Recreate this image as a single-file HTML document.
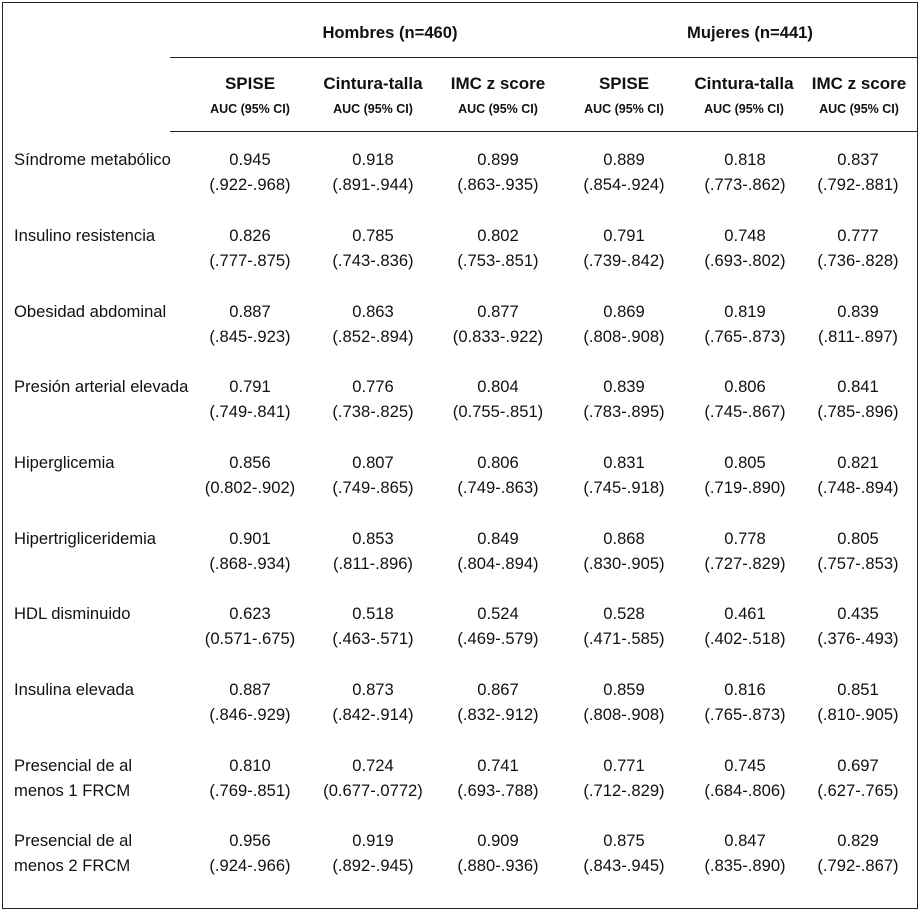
<!DOCTYPE html>
<html><head><meta charset="utf-8"><style>
body{margin:0;width:923px;height:914px;background:#fff;position:relative;font-family:"Liberation Sans",Arial,sans-serif;color:#111;overflow:hidden}
.b{position:absolute;left:2px;top:2px;width:914px;height:905px;border:1.5px solid #222}
.h{position:absolute;left:170px;width:748px;height:1px;background:#222}
.t{position:absolute;width:140px;text-align:center;font-size:16.6px;line-height:25px;white-space:nowrap}
.l{position:absolute;left:14px;font-size:16.6px;line-height:25px;white-space:nowrap}
.g{position:absolute;font-weight:bold;font-size:16.6px;width:200px;text-align:center;top:23px}
.c{position:absolute;width:140px;text-align:center;font-weight:bold;white-space:nowrap}
.c b{display:block;font-size:17px;line-height:18px}
.c i{display:block;font-style:normal;font-size:12.5px;line-height:14px;margin-top:9px}
</style></head><body>
<div class="b"></div>
<div class="h" style="top:57px"></div>
<div class="h" style="top:131px"></div>
<div class="g" style="left:290px">Hombres (n=460)</div>
<div class="g" style="left:650px">Mujeres (n=441)</div>
<div class="c" style="left:180px;top:75px"><b>SPISE</b><i>AUC (95% CI)</i></div>
<div class="c" style="left:303px;top:75px"><b>Cintura-talla</b><i>AUC (95% CI)</i></div>
<div class="c" style="left:428px;top:75px"><b>IMC z score</b><i>AUC (95% CI)</i></div>
<div class="c" style="left:554px;top:75px"><b>SPISE</b><i>AUC (95% CI)</i></div>
<div class="c" style="left:674px;top:75px"><b>Cintura-talla</b><i>AUC (95% CI)</i></div>
<div class="c" style="left:789px;top:75px"><b>IMC z score</b><i>AUC (95% CI)</i></div>

<div class="l" style="top:147px">Síndrome metabólico</div>
<div class="l" style="top:223px">Insulino resistencia</div>
<div class="l" style="top:299px">Obesidad abdominal</div>
<div class="l" style="top:374px">Presión arterial elevada</div>
<div class="l" style="top:450px">Hiperglicemia</div>
<div class="l" style="top:526px">Hipertrigliceridemia</div>
<div class="l" style="top:601px">HDL disminuido</div>
<div class="l" style="top:677px">Insulina elevada</div>
<div class="l" style="top:753px">Presencial de al<br>menos 1 FRCM</div>
<div class="l" style="top:828px">Presencial de al<br>menos 2 FRCM</div>

<div class="t" style="left:180px;top:147px">0.945<br>(.922-.968)</div>
<div class="t" style="left:303px;top:147px">0.918<br>(.891-.944)</div>
<div class="t" style="left:428px;top:147px">0.899<br>(.863-.935)</div>
<div class="t" style="left:554px;top:147px">0.889<br>(.854-.924)</div>
<div class="t" style="left:675px;top:147px">0.818<br>(.773-.862)</div>
<div class="t" style="left:788px;top:147px">0.837<br>(.792-.881)</div>

<div class="t" style="left:180px;top:223px">0.826<br>(.777-.875)</div>
<div class="t" style="left:303px;top:223px">0.785<br>(.743-.836)</div>
<div class="t" style="left:428px;top:223px">0.802<br>(.753-.851)</div>
<div class="t" style="left:554px;top:223px">0.791<br>(.739-.842)</div>
<div class="t" style="left:675px;top:223px">0.748<br>(.693-.802)</div>
<div class="t" style="left:788px;top:223px">0.777<br>(.736-.828)</div>

<div class="t" style="left:180px;top:299px">0.887<br>(.845-.923)</div>
<div class="t" style="left:303px;top:299px">0.863<br>(.852-.894)</div>
<div class="t" style="left:428px;top:299px">0.877<br>(0.833-.922)</div>
<div class="t" style="left:554px;top:299px">0.869<br>(.808-.908)</div>
<div class="t" style="left:675px;top:299px">0.819<br>(.765-.873)</div>
<div class="t" style="left:788px;top:299px">0.839<br>(.811-.897)</div>

<div class="t" style="left:180px;top:374px">0.791<br>(.749-.841)</div>
<div class="t" style="left:303px;top:374px">0.776<br>(.738-.825)</div>
<div class="t" style="left:428px;top:374px">0.804<br>(0.755-.851)</div>
<div class="t" style="left:554px;top:374px">0.839<br>(.783-.895)</div>
<div class="t" style="left:675px;top:374px">0.806<br>(.745-.867)</div>
<div class="t" style="left:788px;top:374px">0.841<br>(.785-.896)</div>

<div class="t" style="left:180px;top:450px">0.856<br>(0.802-.902)</div>
<div class="t" style="left:303px;top:450px">0.807<br>(.749-.865)</div>
<div class="t" style="left:428px;top:450px">0.806<br>(.749-.863)</div>
<div class="t" style="left:554px;top:450px">0.831<br>(.745-.918)</div>
<div class="t" style="left:675px;top:450px">0.805<br>(.719-.890)</div>
<div class="t" style="left:788px;top:450px">0.821<br>(.748-.894)</div>

<div class="t" style="left:180px;top:526px">0.901<br>(.868-.934)</div>
<div class="t" style="left:303px;top:526px">0.853<br>(.811-.896)</div>
<div class="t" style="left:428px;top:526px">0.849<br>(.804-.894)</div>
<div class="t" style="left:554px;top:526px">0.868<br>(.830-.905)</div>
<div class="t" style="left:675px;top:526px">0.778<br>(.727-.829)</div>
<div class="t" style="left:788px;top:526px">0.805<br>(.757-.853)</div>

<div class="t" style="left:180px;top:601px">0.623<br>(0.571-.675)</div>
<div class="t" style="left:303px;top:601px">0.518<br>(.463-.571)</div>
<div class="t" style="left:428px;top:601px">0.524<br>(.469-.579)</div>
<div class="t" style="left:554px;top:601px">0.528<br>(.471-.585)</div>
<div class="t" style="left:675px;top:601px">0.461<br>(.402-.518)</div>
<div class="t" style="left:788px;top:601px">0.435<br>(.376-.493)</div>

<div class="t" style="left:180px;top:677px">0.887<br>(.846-.929)</div>
<div class="t" style="left:303px;top:677px">0.873<br>(.842-.914)</div>
<div class="t" style="left:428px;top:677px">0.867<br>(.832-.912)</div>
<div class="t" style="left:554px;top:677px">0.859<br>(.808-.908)</div>
<div class="t" style="left:675px;top:677px">0.816<br>(.765-.873)</div>
<div class="t" style="left:788px;top:677px">0.851<br>(.810-.905)</div>

<div class="t" style="left:180px;top:753px">0.810<br>(.769-.851)</div>
<div class="t" style="left:303px;top:753px">0.724<br>(0.677-.0772)</div>
<div class="t" style="left:428px;top:753px">0.741<br>(.693-.788)</div>
<div class="t" style="left:554px;top:753px">0.771<br>(.712-.829)</div>
<div class="t" style="left:675px;top:753px">0.745<br>(.684-.806)</div>
<div class="t" style="left:788px;top:753px">0.697<br>(.627-.765)</div>

<div class="t" style="left:180px;top:828px">0.956<br>(.924-.966)</div>
<div class="t" style="left:303px;top:828px">0.919<br>(.892-.945)</div>
<div class="t" style="left:428px;top:828px">0.909<br>(.880-.936)</div>
<div class="t" style="left:554px;top:828px">0.875<br>(.843-.945)</div>
<div class="t" style="left:675px;top:828px">0.847<br>(.835-.890)</div>
<div class="t" style="left:788px;top:828px">0.829<br>(.792-.867)</div>
</body></html>
